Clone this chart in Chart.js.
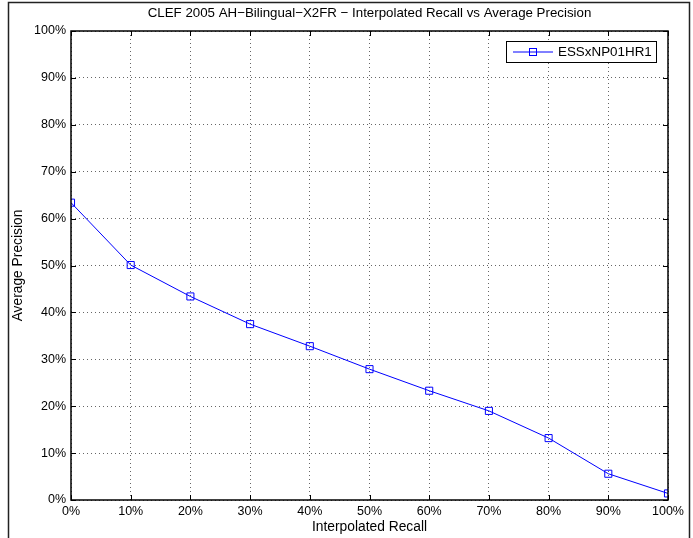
<!DOCTYPE html>
<html>
<head>
<meta charset="utf-8">
<script src="https://cdn.jsdelivr.net/npm/chart.js@4.4.1/dist/chart.umd.min.js"></script>
<style>
  html, body { margin: 0; padding: 0; background: #fff; }
  canvas { display: block; }
</style>
</head>
<body>
<canvas id="chart" width="693" height="538"></canvas>
<script>
// ---- data ----
const recall = [0, 10, 20, 30, 40, 50, 60, 70, 80, 90, 100]
const precision = [63.4, 50.1, 43.4, 37.5, 32.8, 27.9, 23.3, 19.0, 13.2, 5.6, 1.4]
const tickValues = [0, 10, 20, 30, 40, 50, 60, 70, 80, 90, 100]
const seriesName = "ESSxNP01HR1"
const chartTitle = "CLEF 2005 AH\u2212Bilingual\u2212X2FR \u2212 Interpolated Recall vs Average Precision"
const xTitle = "Interpolated Recall"
const yTitle = "Average Precision"

const FONT = "'Liberation Sans', Arial, Helvetica, sans-serif"
const BLUE = "#0000ff"
Chart.defaults.font.family = FONT
Chart.defaults.font.size = 12.5
Chart.defaults.color = "#000"

// frame, plot box, inward ticks, title and legend (matlab style)
const matlabDecor = {
  id: "matlabDecor",
  beforeDraw(chart) {
    const ctx = chart.ctx
    ctx.save()
    ctx.fillStyle = "#fff"
    ctx.fillRect(0, 0, chart.width, chart.height)
    // outer figure frame
    ctx.strokeStyle = "#222"
    ctx.lineWidth = 1.5
    ctx.beginPath()
    ctx.moveTo(8.5, chart.height)
    ctx.lineTo(8.5, 2.5)
    ctx.lineTo(689.5, 2.5)
    ctx.lineTo(689.5, chart.height)
    ctx.stroke()
    ctx.restore()
  },
  afterDraw(chart) {
    const ctx = chart.ctx
    const a = chart.chartArea
    const xs = chart.scales.x
    const ys = chart.scales.y
    ctx.save()
    ctx.strokeStyle = "#000"
    ctx.lineWidth = 1.5
    ctx.strokeRect(a.left, a.top, a.right - a.left, a.bottom - a.top)

    // inward tick marks on all four sides
    const tl = 5
    ctx.lineWidth = 1
    ctx.beginPath()
    tickValues.forEach((v) => {
      const px = Math.round(xs.getPixelForValue(v)) + 0.5
      ctx.moveTo(px, a.bottom); ctx.lineTo(px, a.bottom - tl)
      ctx.moveTo(px, a.top); ctx.lineTo(px, a.top + tl)
      const py = Math.round(ys.getPixelForValue(v)) + 0.5
      ctx.moveTo(a.left, py); ctx.lineTo(a.left + tl, py)
      ctx.moveTo(a.right, py); ctx.lineTo(a.right - tl, py)
    })
    ctx.stroke()

    // title
    ctx.fillStyle = "#000"
    ctx.font = "13.3px " + FONT
    ctx.textAlign = "center"
    ctx.textBaseline = "middle"
    ctx.fillText(chartTitle, (a.left + a.right) / 2, 13)

    // legend
    const lx = 506, ly = 41, lw = 150, lh = 21
    ctx.fillStyle = "#fff"
    ctx.fillRect(lx, ly, lw, lh)
    ctx.strokeStyle = "#000"
    ctx.lineWidth = 1
    ctx.strokeRect(lx + 0.5, ly + 0.5, lw, lh)
    const my = ly + lh / 2 + 0.5
    ctx.strokeStyle = BLUE
    ctx.beginPath()
    ctx.moveTo(lx + 7, my); ctx.lineTo(lx + 47, my)
    ctx.stroke()
    ctx.strokeRect(lx + 27 - 3.5, my - 3.5, 7, 7)
    ctx.fillStyle = "#000"
    ctx.font = "13.4px " + FONT
    ctx.textAlign = "left"
    ctx.fillText(seriesName, lx + 52, my)
    ctx.restore()
  },
}

const ctx = document.getElementById("chart").getContext("2d")
const chart = new Chart(ctx, {
  type: "line",
  data: {
    datasets: [
      {
        label: seriesName,
        data: recall.map((r, i) => ({ x: r, y: precision[i] })),
        borderColor: BLUE,
        borderWidth: 1,
        backgroundColor: "rgba(0,0,0,0)",
        pointStyle: "rect",
        pointRadius: 5,
        pointBorderColor: BLUE,
        pointBorderWidth: 1,
        pointBackgroundColor: "rgba(0,0,0,0)",
        tension: 0,
        fill: false,
      },
    ],
  },
  options: {
    responsive: false,
    animation: false,
    layout: { padding: { top: 31, right: 25, left: 0, bottom: 0 } },
    plugins: {
      legend: { display: false },
      title: { display: false },
      tooltip: { enabled: false },
    },
    scales: {
      x: {
        type: "linear",
        min: 0,
        max: 100,
        afterFit: (s) => { s.height = 38 },
        afterBuildTicks: (s) => { s.ticks = tickValues.map((v) => ({ value: v })) },
        ticks: {
          padding: 4,
          autoSkip: false,
          maxRotation: 0,
          callback: (v) => v + "%",
        },
        grid: { color: "rgba(0,0,0,0.6)", lineWidth: 1, drawTicks: false },
        border: { display: false, dash: [1, 3] },
        title: { display: true, text: xTitle, font: { size: 13.8 }, padding: { top: 0, bottom: 3 } },
      },
      y: {
        type: "linear",
        min: 0,
        max: 100,
        afterFit: (s) => { s.width = 71 },
        afterBuildTicks: (s) => { s.ticks = tickValues.map((v) => ({ value: v })) },
        ticks: {
          padding: 5,
          autoSkip: false,
          callback: (v) => v + "%",
        },
        grid: { color: "rgba(0,0,0,0.6)", lineWidth: 1, drawTicks: false },
        border: { display: false, dash: [1, 3] },
        title: { display: true, text: yTitle, font: { size: 13.8 }, padding: { top: 10, bottom: 0 } },
      },
    },
  },
  plugins: [matlabDecor],
})
</script>
</body>
</html>
